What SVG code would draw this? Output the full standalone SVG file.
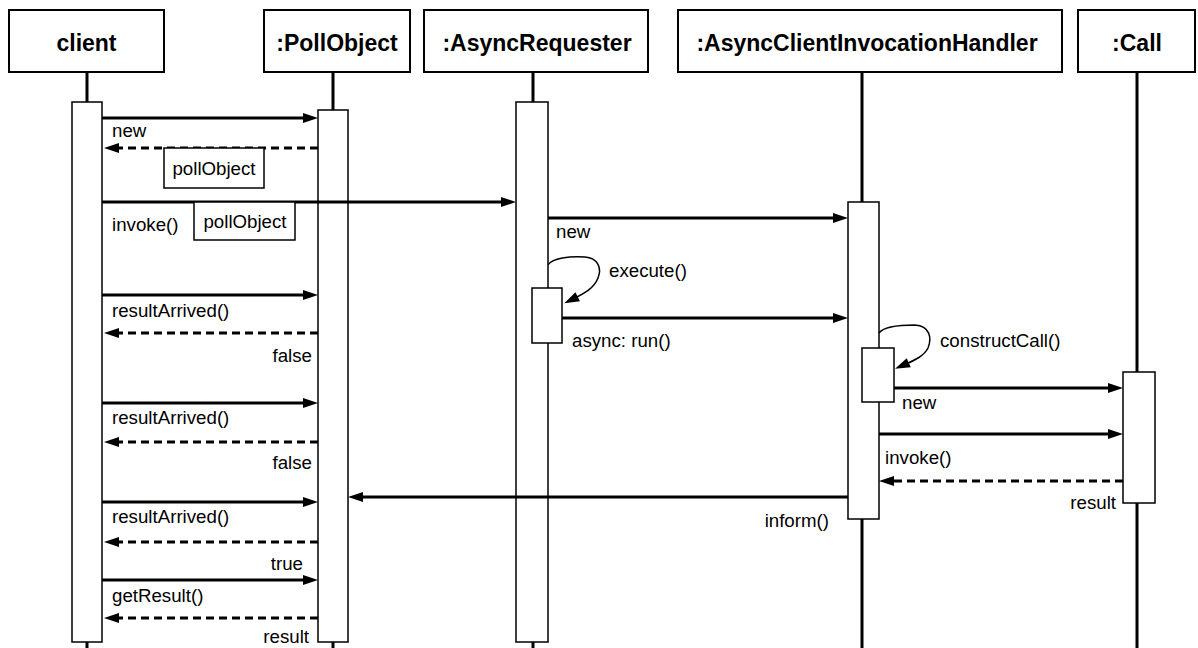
<svg xmlns="http://www.w3.org/2000/svg" width="1198" height="648" viewBox="0 0 1198 648">
<style>
.hdr{fill:#fff;stroke:#000;stroke-width:2}
.ht{font-family:"Liberation Sans",Arial,sans-serif;font-weight:bold;font-size:23px;text-anchor:middle;fill:#000}
.life{stroke:#000;stroke-width:3}
.act{fill:#fff;stroke:#000;stroke-width:1.5}
.msg{stroke:#000;stroke-width:3;fill:none;marker-end:url(#ah)}
.ret{stroke:#000;stroke-width:3;fill:none;stroke-dasharray:8 5;marker-end:url(#ah)}
.self{stroke:#000;stroke-width:1.5;fill:none;marker-end:url(#ah)}
.lbl{font-family:"Liberation Sans",Arial,sans-serif;font-size:18.7px;fill:#000}
.end{text-anchor:end}
.mid{text-anchor:middle}
.obj{fill:#fff;stroke:#000;stroke-width:1.5}
</style>
<defs>
<marker id="ah" markerUnits="userSpaceOnUse" markerWidth="15" markerHeight="10" refX="3" refY="5" orient="auto" overflow="visible">
<path d="M0,0 L15,5 L0,10 z" fill="#000"/>
</marker>
</defs>
<rect width="1198" height="648" fill="#fff"/>

<g id="client">
<rect class="hdr" x="9" y="10" width="155" height="62"/>
<text class="ht" x="86.5" y="51">client</text>
<line class="life" x1="87" y1="72" x2="87" y2="648"/>
<rect class="act" x="72" y="102" width="30" height="540"/>
</g>

<g id="pollobject">
<rect class="hdr" x="264" y="10" width="146" height="62"/>
<text class="ht" x="337" y="51">:PollObject</text>
<line class="life" x1="333" y1="72" x2="333" y2="648"/>
<rect class="act" x="318" y="110" width="30" height="532"/>
</g>

<g id="asyncrequester">
<rect class="hdr" x="424" y="10" width="224" height="62"/>
<text class="ht" x="537" y="51">:AsyncRequester</text>
<line class="life" x1="533" y1="72" x2="533" y2="648"/>
<rect class="act" x="516" y="102" width="32" height="540"/>
<rect class="act" x="532" y="288" width="30" height="55"/>
</g>

<g id="handler">
<rect class="hdr" x="678" y="10" width="384" height="62"/>
<text class="ht" x="867" y="51">:AsyncClientInvocationHandler</text>
<line class="life" x1="862" y1="72" x2="862" y2="648"/>
<rect class="act" x="848" y="202" width="31" height="317"/>
<rect class="act" x="862" y="348" width="32" height="54"/>
</g>

<g id="call">
<rect class="hdr" x="1078" y="10" width="117" height="62"/>
<text class="ht" x="1137" y="51">:Call</text>
<line class="life" x1="1137" y1="72" x2="1137" y2="648"/>
<rect class="act" x="1123" y="372" width="32" height="131"/>
</g>

<g id="connectors">
<line class="msg" x1="102" y1="118" x2="306" y2="118"/>
<line class="ret" x1="318" y1="148" x2="116" y2="148"/>
<line class="msg" x1="102" y1="202" x2="504" y2="202"/>
<line class="msg" x1="548" y1="218" x2="836" y2="218"/>
<path class="self" d="M548,265 C552,258 570,256 585,257 C598,258 602,268 598,278 C594,288 585,293 575,298"/>
<line class="msg" x1="562" y1="318" x2="836" y2="318"/>
<line class="msg" x1="102" y1="295" x2="306" y2="295"/>
<line class="ret" x1="318" y1="333" x2="116" y2="333"/>
<line class="msg" x1="102" y1="403" x2="306" y2="403"/>
<line class="ret" x1="318" y1="442" x2="116" y2="442"/>
<path class="self" d="M879,333 C884,326 900,325 915,325 C930,326 932,338 928,348 C924,356 915,360 906,364"/>
<line class="msg" x1="894" y1="388" x2="1111" y2="388"/>
<line class="msg" x1="879" y1="434" x2="1111" y2="434"/>
<line class="ret" x1="1123" y1="481" x2="891" y2="481"/>
<line class="msg" x1="848" y1="497" x2="360" y2="497"/>
<line class="msg" x1="102" y1="502" x2="306" y2="502"/>
<line class="ret" x1="318" y1="542" x2="116" y2="542"/>
<line class="msg" x1="102" y1="580" x2="306" y2="580"/>
<line class="ret" x1="318" y1="618" x2="116" y2="618"/>
</g>

<g id="obj1">
<rect class="obj" x="164" y="148" width="100" height="40"/>
<text class="lbl mid" x="214" y="175">pollObject</text>
</g>
<g id="obj2">
<rect class="obj" x="194" y="202" width="101" height="38"/>
<text class="lbl mid" x="245" y="228">pollObject</text>
</g>

<g id="labels">
<text class="lbl" x="112" y="137">new</text>
<text class="lbl" x="112" y="231">invoke()</text>
<text class="lbl" x="556" y="238">new</text>
<text class="lbl" x="609" y="277">execute()</text>
<text class="lbl" x="572" y="347">async: run()</text>
<text class="lbl" x="112" y="317">resultArrived()</text>
<text class="lbl end" x="312" y="362">false</text>
<text class="lbl" x="112" y="424">resultArrived()</text>
<text class="lbl end" x="312" y="469">false</text>
<text class="lbl" x="940" y="347">constructCall()</text>
<text class="lbl" x="902" y="409">new</text>
<text class="lbl" x="885" y="464">invoke()</text>
<text class="lbl end" x="1116" y="509">result</text>
<text class="lbl end" x="829" y="527">inform()</text>
<text class="lbl" x="112" y="523">resultArrived()</text>
<text class="lbl end" x="303" y="570">true</text>
<text class="lbl" x="112" y="602">getResult()</text>
<text class="lbl end" x="309" y="643">result</text>
</g>
</svg>
